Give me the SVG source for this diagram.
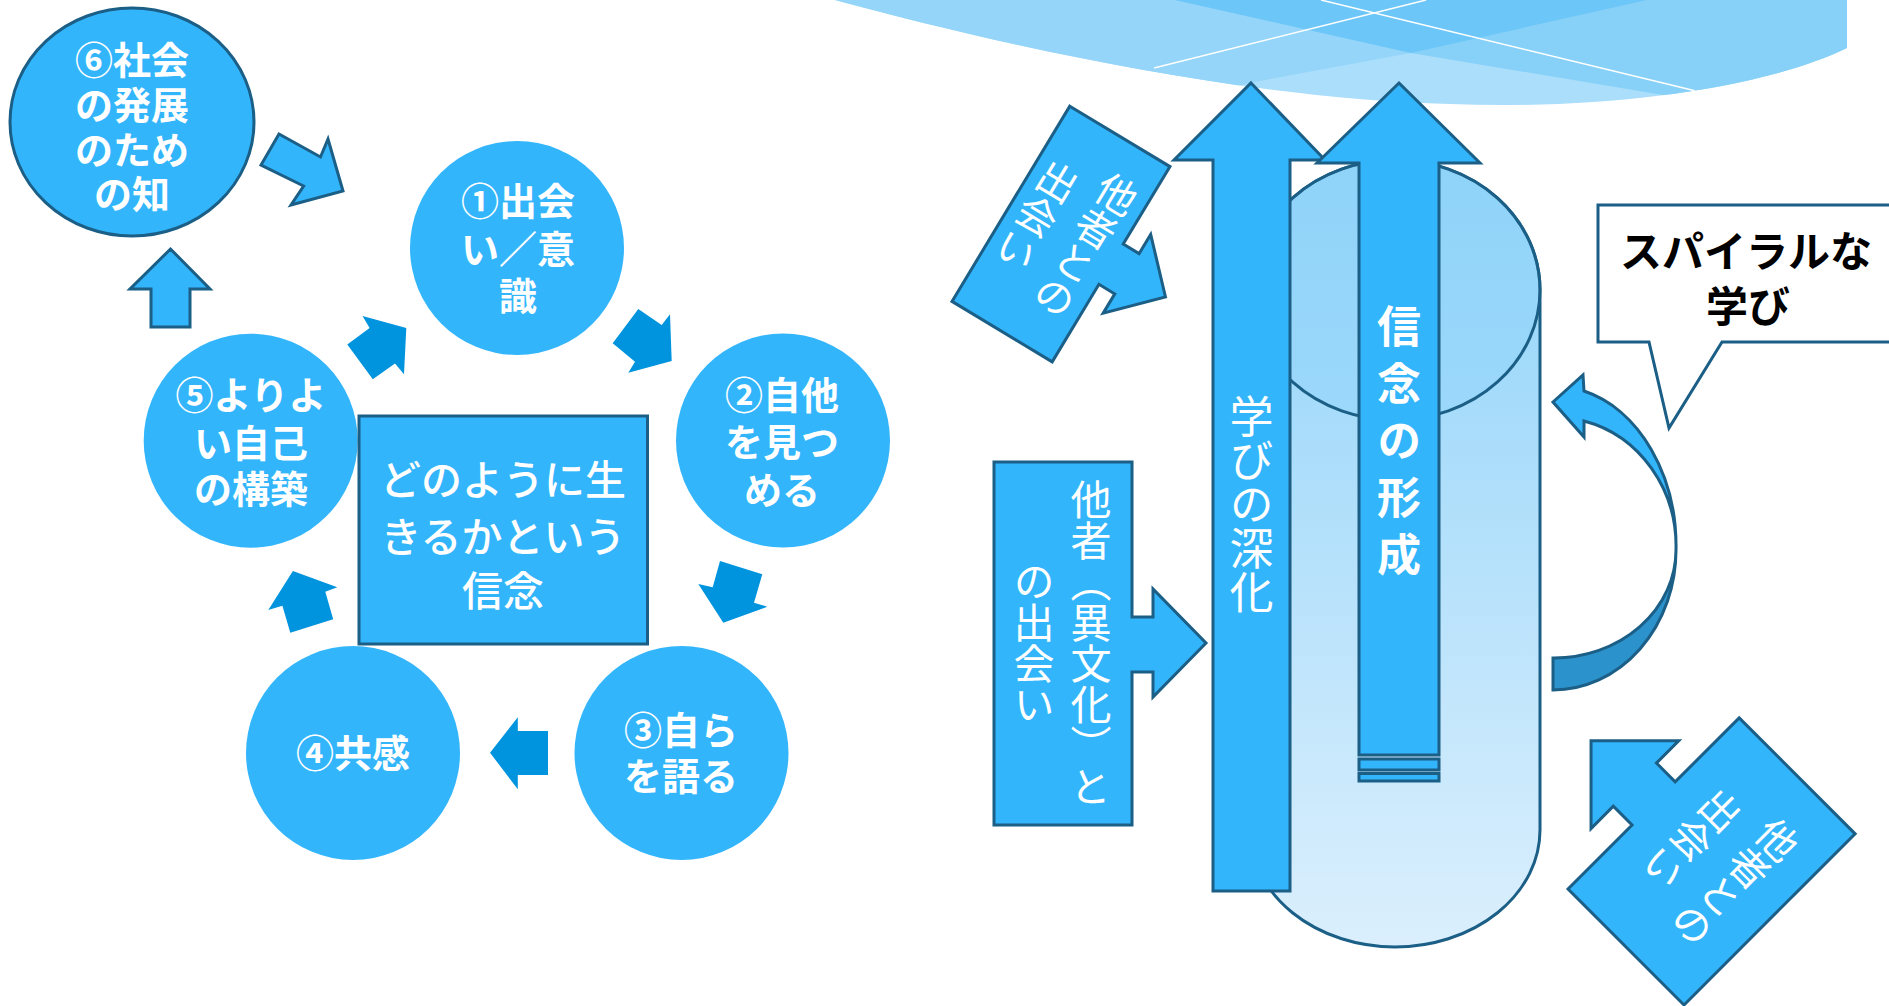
<svg xmlns="http://www.w3.org/2000/svg" width="1889" height="1006" viewBox="0 0 1889 1006">
<style>
.lb{fill:#33b5fc}
.st{stroke:#1b5e86;stroke-width:3;stroke-linejoin:miter}
.dk{fill:#0094de}
.ct{font-family:"Noto Sans CJK JP","Noto Sans CJK SC",sans-serif;fill:#fff;text-anchor:middle;dominant-baseline:central}
.cb{font-weight:700;font-size:38px}
.vt{font-family:"Noto Sans CJK JP","Noto Sans CJK SC",sans-serif;fill:#fff;writing-mode:vertical-rl}
</style>
<defs>
<clipPath id="waveClip"><path d="M835,0 C1000,45 1250,100 1450,104 C1600,110 1760,90 1847,48 L1847,0 Z"/></clipPath>
<linearGradient id="cyl" x1="0" y1="0" x2="0" y2="1">
<stop offset="0" stop-color="#8fd3f9"/>
<stop offset="1" stop-color="#dbeffd"/>
</linearGradient>
</defs>

<g id="wave" clip-path="url(#waveClip)">
<rect x="820" y="0" width="1040" height="120" fill="#aadefb"/>
<polygon points="800,-10 1652,-10 1411,53 1249,83 800,190" fill="#94d5f9"/>
<polygon points="1170,-10 1175,0 1411,53 1675,97 1900,140 1900,-10" fill="#87d1f8"/>
<polygon points="1175,0 1411,53 1647,0" fill="#6cc6f7"/>
<line x1="1154" y1="68" x2="1426" y2="0" stroke="#fff" stroke-width="1.5"/>
<line x1="1321" y1="0" x2="1700" y2="92" stroke="#fff" stroke-width="1.5"/>
</g>

<g id="connectors">
<polygon class="lb st" points="279,134 320.5,157 328,139 343,191 291,205 303.6,186 261,165"/>
<polygon class="lb st" points="170.5,249 210,289 190,289 190,327 151,327 151,289 130,289"/>
<polygon class="dk" points="638.3,309 661.7,325 670,314.3 671.7,361 628.3,372.7 635,361.7 612.7,343.3"/>
<polygon class="dk" points="720,561 762.3,574.3 754,602.7 767.3,606.7 723.3,622.7 698.3,584 712.7,587.3"/>
<polygon class="dk" points="490,752.7 517.8,717.3 517.8,731 548,731 548,775 517.8,775 517.8,789.3"/>
<polygon class="dk" points="290.3,632.7 333.2,619.3 325.3,591.7 337.3,587.3 292.9,571 268.3,610 282.4,605.7"/>
<polygon class="dk" points="347.3,344.6 369.6,327.9 362.5,316 406.3,327.9 404,374.3 395,363.6 372.8,379.3"/>
</g>

<g id="n6">
<ellipse class="lb st" cx="132" cy="122" rx="122" ry="114"/>
<text class="ct cb"><tspan x="132" y="57">⑥社会</tspan><tspan x="132" y="102">の発展</tspan><tspan x="132" y="147">のため</tspan><tspan x="132" y="191">の知</tspan></text>
</g>
<g id="n1">
<circle class="lb" cx="517" cy="248" r="107"/>
<text class="ct cb"><tspan x="518" y="198">①出会</tspan><tspan x="518" y="246">い／意</tspan><tspan x="518" y="293">識</tspan></text>
</g>
<g id="n2">
<circle class="lb" cx="783" cy="440.5" r="107"/>
<text class="ct cb"><tspan x="782" y="392">②自他</tspan><tspan x="782" y="439">を見つ</tspan><tspan x="782" y="487">める</tspan></text>
</g>
<g id="n3">
<circle class="lb" cx="681.5" cy="753" r="107"/>
<text class="ct cb"><tspan x="681" y="727">③自ら</tspan><tspan x="681" y="773">を語る</tspan></text>
</g>
<g id="n4">
<circle class="lb" cx="353" cy="753" r="107"/>
<text class="ct cb" x="353" y="750">④共感</text>
</g>
<g id="n5">
<circle class="lb" cx="250.7" cy="440.7" r="107"/>
<text class="ct cb"><tspan x="251" y="392">⑤よりよ</tspan><tspan x="251" y="440">い自己</tspan><tspan x="251" y="486">の構築</tspan></text>
</g>
<g id="center">
<rect class="lb st" x="359" y="416" width="288.5" height="228"/>
<text class="ct" style="font-size:41px;font-weight:500"><tspan x="503" y="477">どのように生</tspan><tspan x="503" y="534">きるかという</tspan><tspan x="503" y="588">信念</tspan></text>
</g>

<g id="cylinder">
<path d="M1250,290 A145,130 0 0 1 1540,290 L1540,830 A145,117 0 0 1 1250,830 Z" fill="url(#cyl)" stroke="#1b5e86" stroke-width="3"/>
<ellipse cx="1395" cy="290" rx="145" ry="130" fill="#8fd3f9" fill-opacity="0.5" stroke="#1b5e86" stroke-width="3"/>
</g>

<g id="manabi">
<polygon class="lb st" points="1251,83 1325,160 1290,160 1290,891 1213,891 1213,160 1174,160"/>
<text class="vt" x="1251.5" y="394" style="font-size:44px">学びの深化</text>
</g>
<g id="shinnen">
<polygon class="lb st" points="1399,83 1480,163 1439,163 1439,755 1359,755 1359,163 1317,163"/>
<rect class="lb st" x="1359" y="759" width="80" height="11" stroke-width="2.5"/>
<rect class="lb st" x="1359" y="773.5" width="80" height="7.5" stroke-width="2.5"/>
<text class="vt" x="1399" y="304" style="font-size:44px;font-weight:700;letter-spacing:13px">信念の形成</text>
</g>

<g id="ibunka">
<polygon class="lb st" points="994,462 1132,462 1132,617 1153,617 1153,589 1206,643 1153,697 1153,672 1132,672 1132,825 994,825"/>
<text class="vt" x="1091" y="643" style="font-size:41px;text-anchor:middle">他者（異文化）と</text>
<text class="vt" x="1034" y="643" style="font-size:41px;text-anchor:middle">の出会い</text>
</g>

<g id="tasha1" transform="translate(1061,234) rotate(31.1)">
<polygon class="lb st" points="-58.5,-114 58.5,-114 58.5,-23.5 77,-23.5 77,-46 122,0 77,46 77,23.5 58.5,23.5 58.5,114 -58.5,114"/>
<text class="vt" x="27" y="-3" style="font-size:40px;text-anchor:middle">他者との</text>
<text class="vt" x="-30" y="-3" style="font-size:40px;text-anchor:middle">出会い</text>
</g>

<g id="tasha2" transform="translate(1711.6,861.4) rotate(45)">
<polygon class="lb st" points="-82,-121 82,-121 82,121 -82,121 -82,30.5 -108.5,30.5 -108.5,62 -170.5,0 -108.5,-62 -108.5,-30.5 -82,-30.5"/>
<text class="vt" x="31" y="-2" style="font-size:40px;text-anchor:middle">他者との</text>
<text class="vt" x="-30" y="-2" style="font-size:40px;text-anchor:middle">出会い</text>
</g>

<g id="spiral">
<path d="M1676,550 A123,140 0 0 1 1553,690 L1553,658 A122,108 0 0 0 1676,550 Z" fill="#2b92cc" stroke="#1b5e86" stroke-width="3"/>
<path d="M1584,421 L1584,437 L1553,402 L1583,375 L1584,391 A122,160 0 0 1 1676,550 A121,129 0 0 0 1584,421 Z" fill="#33b5fc" stroke="#1b5e86" stroke-width="3"/>
</g>

<g id="bubble">
<path d="M1598,205 L1895,205 L1895,342 L1722,342 L1669,428 L1649,342 L1598,342 Z" fill="#fff" stroke="#1b5e86" stroke-width="3"/>
<text class="ct" style="fill:#000;font-size:42px;font-weight:700"><tspan x="1746" y="248">スパイラルな</tspan><tspan x="1748" y="303">学び</tspan></text>
</g>
</svg>
